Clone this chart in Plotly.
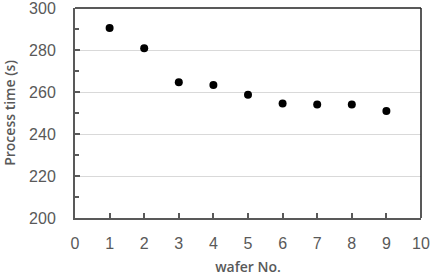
import plotly.graph_objects as go

wafer_no = [1, 2, 3, 4, 5, 6, 7, 8, 9]
process_time = [290.5, 280.8, 264.7, 263.3, 258.7, 254.5, 254.0, 254.0, 251.0]

x_ticks = list(range(0, 11))
y_ticks = [200, 220, 240, 260, 280, 300]

gray = "#595959"
fig = go.Figure()
fig.add_trace(go.Scatter(x=wafer_no, y=process_time, mode="markers",
                         marker=dict(color="black", size=8), showlegend=False))

title_font = dict(size=14, family="Open Sans, sans-serif", color=gray, weight=600)
fig.update_layout(
    width=432, height=276,
    margin=dict(l=75, r=11, t=8, b=58, autoexpand=False),
    paper_bgcolor="white", plot_bgcolor="white",
    font=dict(family="Liberation Sans, Arial, sans-serif", color=gray, size=16),
    xaxis=dict(range=[0, 10], tickvals=x_ticks, ticks="inside", ticklen=5, tickwidth=1.5,
               tickcolor=gray, showline=True, linecolor=gray, linewidth=2,
               showgrid=False, zeroline=False, ticklabelstandoff=10,
               ticklabeloverflow="allow", automargin=False,
               title=dict(text="wafer No.", font=title_font, standoff=16)),
    yaxis=dict(range=[200, 300], tickvals=y_ticks, ticks="inside", ticklen=5, tickwidth=1.5,
               tickcolor=gray, showline=True, linecolor=gray, linewidth=2,
               showgrid=True, gridcolor="#d9d9d9", gridwidth=1, zeroline=False,
               ticklabelstandoff=14, ticklabeloverflow="allow", automargin=False,
               minor=dict(tickvals=[210, 230, 250, 270, 290], ticks="inside", ticklen=4,
                          tickcolor=gray, tickwidth=1.5, showgrid=False),
               title=dict(text="Process time (s)", font=title_font, standoff=12)),
)
fig.add_shape(type="line", xref="x domain", yref="y domain", x0=0, x1=1, y0=1, y1=1,
              line=dict(color="#222222", width=1.5))
fig.add_shape(type="line", xref="x domain", yref="y domain", x0=1, x1=1, y0=0, y1=1,
              line=dict(color="#222222", width=1.5))
fig.write_html("out.html")
